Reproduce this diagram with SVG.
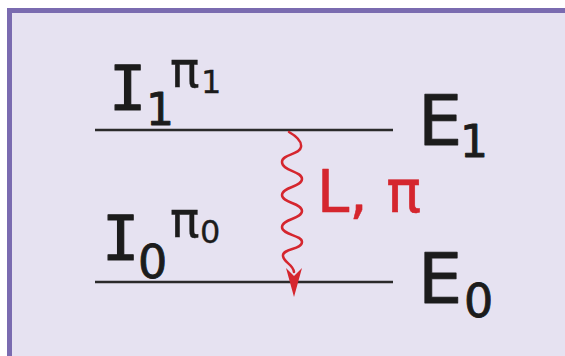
<svg xmlns="http://www.w3.org/2000/svg" width="565" height="356" viewBox="0 0 565 356">
<style>
.t{font-family:"DejaVu Sans","Liberation Sans",sans-serif;fill:#1c1c1c;stroke:#1c1c1c;stroke-width:0.9;stroke-linejoin:round}
.s{font-family:"DejaVu Sans","Liberation Sans",sans-serif;fill:#1c1c1c;stroke:#1c1c1c;stroke-width:0.3}
.m{font-family:"DejaVu Sans Mono","Liberation Mono",monospace;fill:#1c1c1c;stroke:#1c1c1c;stroke-width:1.2;stroke-linejoin:round}
.r{font-family:"DejaVu Sans","Liberation Sans",sans-serif;fill:#d5262e;stroke:#d5262e;stroke-width:0.6;stroke-linejoin:round}
.lvl{stroke:#2a2a2a;stroke-width:2.5;fill:none}
</style>
<rect x="0" y="0" width="565" height="356" fill="#ffffff"/>
<rect x="9.5" y="10.5" width="620" height="420" fill="#e6e2f1" stroke="#7a6bb0" stroke-width="5"/>
<g id="level1">
<line class="lvl" x1="95" y1="130" x2="393" y2="130"/>
<text class="m" x="109" y="110" font-size="62">I</text>
<text class="t" x="146" y="125" font-size="44">1</text>
<text class="s" x="170" y="87" font-size="49">π</text>
<text class="s" x="201" y="93" font-size="32">1</text>
<text class="t" x="418" y="145" font-size="70">E</text>
<text class="t" x="460" y="157" font-size="44">1</text>
</g>
<g id="level0">
<line class="lvl" x1="95" y1="282" x2="393" y2="282"/>
<text class="m" x="102" y="260" font-size="62">I</text>
<text class="t" x="138" y="278" font-size="46">0</text>
<text class="s" x="170" y="237" font-size="49">π</text>
<text class="s" x="200" y="243" font-size="32">0</text>
<text class="t" x="418" y="303" font-size="70">E</text>
<text class="t" x="464" y="317" font-size="46">0</text>
</g>
<g id="connectors">
<path d="M289,132 C296,136 302,141 301,147 C300,155 282,154 282,162 C282,171 302,171 302,179 C302,187 282,187 282,195 C282,203 302,203 302,211 C302,219 282,219 282,227 C282,235 302,235 302,242 C302,250 282,248 283,256 C284,263 293,264 294,272" fill="none" stroke="#d5262e" stroke-width="2.5" stroke-linecap="round"/>
<path d="M294,297 L286,268 L294,276 L302,268 Z" fill="#d5262e"/>
<text class="r" x="317" y="212" font-size="58">L, π</text>
</g>
</svg>
